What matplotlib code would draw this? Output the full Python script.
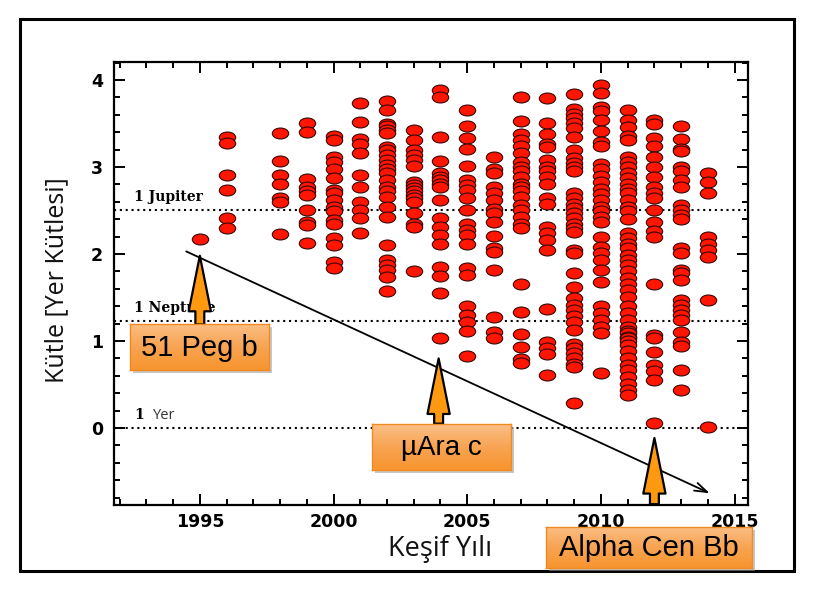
import matplotlib
matplotlib.use("Agg")
import matplotlib.pyplot as plt
import numpy as np
from matplotlib.path import Path
from matplotlib.transforms import Affine2D
from matplotlib.patches import Rectangle
from matplotlib.ticker import MultipleLocator
from matplotlib.colors import LinearSegmentedColormap

# ---------------- data (log10 of mass in Earth masses) ----------------
m1995 = [2.17]
m1996 = [3.34, 3.28, 2.91, 2.74, 2.41, 2.30]
m1998 = [3.39, 3.07, 2.91, 2.80, 2.64, 2.60, 2.23]
m1999 = [3.51, 3.40, 2.86, 2.77, 2.72, 2.68, 2.51, 2.37, 2.33, 2.13]
m2000 = [3.36, 3.31, 3.11, 3.06, 2.98, 2.87, 2.74, 2.70, 2.62, 2.54, 2.49,
         2.39, 2.35, 2.18, 2.10, 1.91, 1.84]
m2001 = [3.74, 3.52, 3.32, 3.27, 3.16, 2.91, 2.77, 2.60, 2.51, 2.41, 2.24]
m2002 = [3.76, 3.66, 3.50, 3.47, 3.43, 3.39, 3.23, 3.19, 3.14, 3.08, 3.02,
         2.98, 2.93, 2.85, 2.77, 2.72, 2.66, 2.54, 2.43, 2.10, 1.93, 1.87,
         1.82, 1.74, 1.57]
m2003 = [3.42, 3.31, 3.20, 3.14, 3.08, 3.01, 2.83, 2.79, 2.76, 2.72, 2.68,
         2.64, 2.60, 2.47, 2.35, 2.31, 1.81]
m2004 = [3.89, 3.80, 3.34, 3.07, 2.93, 2.89, 2.85, 2.81, 2.77, 2.62, 2.41,
         2.31, 2.22, 2.12, 1.85, 1.75, 1.55, 1.03]
m2005 = [3.65, 3.47, 3.33, 3.21, 3.01, 2.85, 2.79, 2.74, 2.64, 2.51, 2.35,
         2.28, 2.22, 2.12, 1.84, 1.76, 1.40, 1.30, 1.22, 1.11, 0.83]
m2006 = [3.11, 2.98, 2.93, 2.77, 2.70, 2.62, 2.52, 2.47, 2.37, 2.21, 2.07,
         2.02, 1.82, 1.28, 1.10, 1.03]
m2007 = [3.81, 3.53, 3.38, 3.31, 3.24, 3.16, 3.06, 3.00, 2.95, 2.89, 2.81,
         2.77, 2.72, 2.66, 2.56, 2.51, 2.43, 2.34, 2.30, 1.66, 1.33, 1.08,
         0.93, 0.79, 0.75]
m2008 = [3.79, 3.51, 3.38, 3.27, 3.23, 3.08, 3.00, 2.95, 2.89, 2.81, 2.64,
         2.58, 2.31, 2.24, 2.16, 2.05, 1.37, 0.99, 0.92, 0.85, 0.61]
m2009 = [3.84, 3.67, 3.61, 3.56, 3.51, 3.45, 3.34, 3.20, 3.10, 3.05, 3.00,
         2.95, 2.70, 2.64, 2.58, 2.53, 2.47, 2.41, 2.35, 2.30, 2.25, 2.05,
         2.01, 1.78, 1.62, 1.49, 1.41, 1.36, 1.29, 1.22, 1.13, 0.97, 0.92,
         0.86, 0.80, 0.74, 0.70, 0.29]
m2010 = [3.94, 3.85, 3.69, 3.64, 3.54, 3.41, 3.29, 3.24, 3.04, 2.98, 2.90,
         2.83, 2.75, 2.69, 2.62, 2.54, 2.49, 2.43, 2.37, 2.20, 2.08, 2.01,
         1.93, 1.82, 1.68, 1.40, 1.32, 1.24, 1.16, 1.09, 0.63]
m2011 = [3.66, 3.54, 3.46, 3.36, 3.31, 3.12, 3.06, 3.00, 2.93, 2.87, 2.81,
         2.75, 2.70, 2.62, 2.54, 2.49, 2.40, 2.24, 2.18, 2.12, 2.07, 1.99,
         1.93, 1.87, 1.80, 1.72, 1.66, 1.59, 1.51, 1.40, 1.32, 1.24, 1.16,
         1.12, 1.09, 1.05, 1.03, 1.00, 0.95, 0.88, 0.80, 0.72, 0.67, 0.59,
         0.51, 0.44, 0.38]
m2012 = [3.54, 3.50, 3.33, 3.24, 3.12, 3.00, 2.89, 2.77, 2.70, 2.64, 2.51,
         2.37, 2.26, 2.20, 1.66, 1.07, 1.03, 0.87, 0.72, 0.66, 0.55, 0.06]
m2013 = [3.47, 3.32, 3.21, 3.18, 3.00, 2.95, 2.85, 2.77, 2.56, 2.51, 2.45,
         2.40, 2.07, 2.01, 1.82, 1.78, 1.70, 1.47, 1.41, 1.36, 1.30, 1.24,
         1.10, 0.99, 0.94, 0.67, 0.44]
m2014 = [2.93, 2.83, 2.70, 2.20, 2.12, 2.05, 1.97, 1.47, 0.01]

years = [1995, 1996, 1998, 1999, 2000, 2001, 2002, 2003, 2004, 2005, 2006,
         2007, 2008, 2009, 2010, 2011, 2012, 2013, 2014]
masses = [m1995, m1996, m1998, m1999, m2000, m2001, m2002, m2003, m2004,
          m2005, m2006, m2007, m2008, m2009, m2010, m2011, m2012, m2013, m2014]

ref_levels = [2.505, 1.23, 0.0]       # Jupiter, Neptune, Earth
x_ticks = [1995, 2000, 2005, 2010, 2015]
y_ticks = [0, 1, 2, 3, 4]

# ---------------- figure ----------------
W, H = 815, 593
fig = plt.figure(figsize=(W / 100, H / 100), dpi=100)
fig.patch.set_facecolor("white")

def fx(px):
    return px / W

def fy(py):
    return 1 - py / H

ax = fig.add_axes([fx(114), fy(505), fx(748) - fx(114), fy(62) - fy(505)])
ax.set_xlim(1991.79, 2015.5)
ax.set_ylim(-0.885, 4.207)

# ellipse marker
ell = Path.unit_circle().transformed(Affine2D().scale(1.5, 1.0))

xs = np.concatenate([[yr] * len(m) for yr, m in zip(years, masses)])
ys = np.concatenate(masses)
ax.plot(xs, ys, linestyle="none", marker=ell, markersize=11.8,
        markerfacecolor="#ff1500", markeredgecolor="#3a0505",
        markeredgewidth=0.8, zorder=3)

# reference lines
for lv in ref_levels:
    ax.axhline(lv, color="black", lw=1.5, linestyle=(0, (1.0, 1.8)), zorder=2)

ax.text(1992.55, 2.58, "1 Jupiter", family="DejaVu Serif", fontweight="bold",
        fontsize=10, ha="left", va="bottom", zorder=4)
ax.text(1992.55, 1.30, "1 Neptune", family="DejaVu Serif", fontweight="bold",
        fontsize=10, ha="left", va="bottom", zorder=4)
ax.text(1992.55, 0.07, "1", family="DejaVu Serif", fontweight="bold",
        fontsize=10, ha="left", va="bottom", zorder=4)
ax.text(1993.25, 0.06, "Yer", family="Open Sans", color="#333333",
        fontsize=10.5, ha="left", va="bottom", zorder=4)

# trend arrow
ax.annotate("", xy=(2014.07, -0.75), xytext=(1994.49, 2.03),
            arrowprops=dict(arrowstyle="->,head_length=0.9,head_width=0.3",
                            color="black", lw=1.3, shrinkA=0, shrinkB=0),
            zorder=5)

# axes style
for s in ax.spines.values():
    s.set_linewidth(1.6)
ax.set_xticks(x_ticks, labels=[str(v) for v in x_ticks], fontsize=12.5,
              fontweight="bold", family="DejaVu Sans")
ax.set_yticks(y_ticks, labels=[str(v) for v in y_ticks], fontsize=12.5,
              fontweight="bold", family="DejaVu Sans")
ax.xaxis.set_minor_locator(MultipleLocator(1))
ax.yaxis.set_minor_locator(MultipleLocator(0.2))
ax.tick_params(which="both", direction="in", top=True, right=True,
               width=1.4, color="black")
ax.tick_params(which="major", length=8)
ax.tick_params(which="minor", length=4)
ax.tick_params(axis="x", which="major", pad=6)
ax.tick_params(axis="y", which="major", pad=8)

# axis titles
fig.text(fx(57), fy(280), "Kütle [Yer Kütlesi]", rotation=90, ha="center",
         va="center", fontsize=18, family="Open Sans", color="#111111")
fig.text(fx(440), fy(549), "Keşif Yılı", ha="center", va="center",
         fontsize=19.5, family="Open Sans", color="#111111")

# outer frame
fig.add_artist(Rectangle((fx(20), fy(571)), fx(794) - fx(20), fy(19) - fy(571),
                         transform=fig.transFigure, fill=False, lw=2.2,
                         ec="black", zorder=0))

# orange up-arrows (annotations)
def up_arrow(x, y_tip, y_base):
    ax.annotate("", xy=(x, y_tip), xytext=(x, y_base),
                arrowprops=dict(arrowstyle="simple,head_length=2.0,head_width=0.8,tail_width=0.32",
                                fc="#ff9a10", ec="black", lw=1.6,
                                shrinkA=0, shrinkB=0, mutation_scale=20),
                annotation_clip=False, zorder=6)

up_arrow(1995.0, 1.98, 1.19)
up_arrow(2003.93, 0.80, 0.05)
up_arrow(2012.0, -0.115, -0.875)

# orange label boxes with gradient
grad = np.linspace(0, 1, 64).reshape(-1, 1)
ocmap = LinearSegmentedColormap.from_list("o", ["#fbbf86", "#f8a453", "#f7952e"])

def label_box(x0, y0, x1, y1, text, fs):
    fig.add_artist(Rectangle((fx(x0 + 3), fy(y1 + 3)), fx(x1) - fx(x0),
                             fy(y0) - fy(y1), transform=fig.transFigure,
                             fc="#9a9a9a", ec="none", alpha=0.55, zorder=7))
    bax = fig.add_axes([fx(x0), fy(y1), fx(x1) - fx(x0), fy(y0) - fy(y1)])
    bax.set_zorder(8)
    bax.imshow(grad, aspect="auto", cmap=ocmap, extent=[0, 1, 0, 1],
               origin="upper")
    bax.set_xticks([])
    bax.set_yticks([])
    for s in bax.spines.values():
        s.set_edgecolor("#f08a20")
        s.set_linewidth(1.0)
    bax.text(0.5, 0.48, text, ha="center", va="center", fontsize=fs,
             family="Liberation Sans", color="black", transform=bax.transAxes)

label_box(130, 324, 269, 370, "51 Peg b", 21)
label_box(372, 424, 511, 470, "µAra c", 20)
label_box(546, 527, 752, 568, "Alpha Cen Bb", 21)

fig.savefig("out.png", dpi=100)
